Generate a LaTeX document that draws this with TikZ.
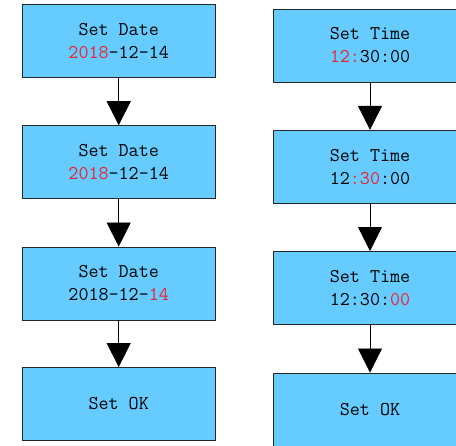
\documentclass[tikz,border=0pt]{standalone}
\usepackage{tikz}
\usetikzlibrary{arrows.meta}
\definecolor{boxblue}{RGB}{102,204,255}
\definecolor{digred}{RGB}{235,35,45}
\newcommand{\rd}[1]{\textcolor{digred}{#1}}

\begin{document}
\begin{tikzpicture}[x=1pt,y=-1pt,
        box/.style={draw=black!85,line width=0.9pt,fill=boxblue,inner sep=0pt,
                minimum width=193pt,minimum height=73pt,align=center,
                font=\fontsize{19.5}{23}\selectfont\ttfamily},
        flow/.style={-{Triangle[width=24pt,length=24pt]},line width=0.8pt}]
                \useasboundingbox (0,0) rectangle (456,446);
                \node[box] (D1) at (118.7, 41.2) {Set Date\\\rd{2018}-12-14};
                \node[box] (D2) at (118.7, 162.2) {Set Date\\\rd{2018}-12-14};
                \node[box] (D3) at (118.7, 283.5) {Set Date\\2018-12-\rd{14}};
                \node[box] (D4) at (118.7, 404) {Set OK};

                \node[box] (T1) at (370, 45.5) {Set Time\\\rd{12:}30:00};
                \node[box] (T2) at (370, 166.8) {Set Time\\12\rd{:30}:00};
                \node[box] (T3) at (370, 288) {Set Time\\12:30:\rd{00}};
                \node[box] (T4) at (370, 409.5) {Set OK};
                \path[flow]
                (D1) edge (D2)
                (D2) edge (D3)
                (D3) edge (D4)
                (T1) edge (T2)
                (T2) edge (T3)
                (T3) edge (T4);
                \end{tikzpicture}
\end{document}
